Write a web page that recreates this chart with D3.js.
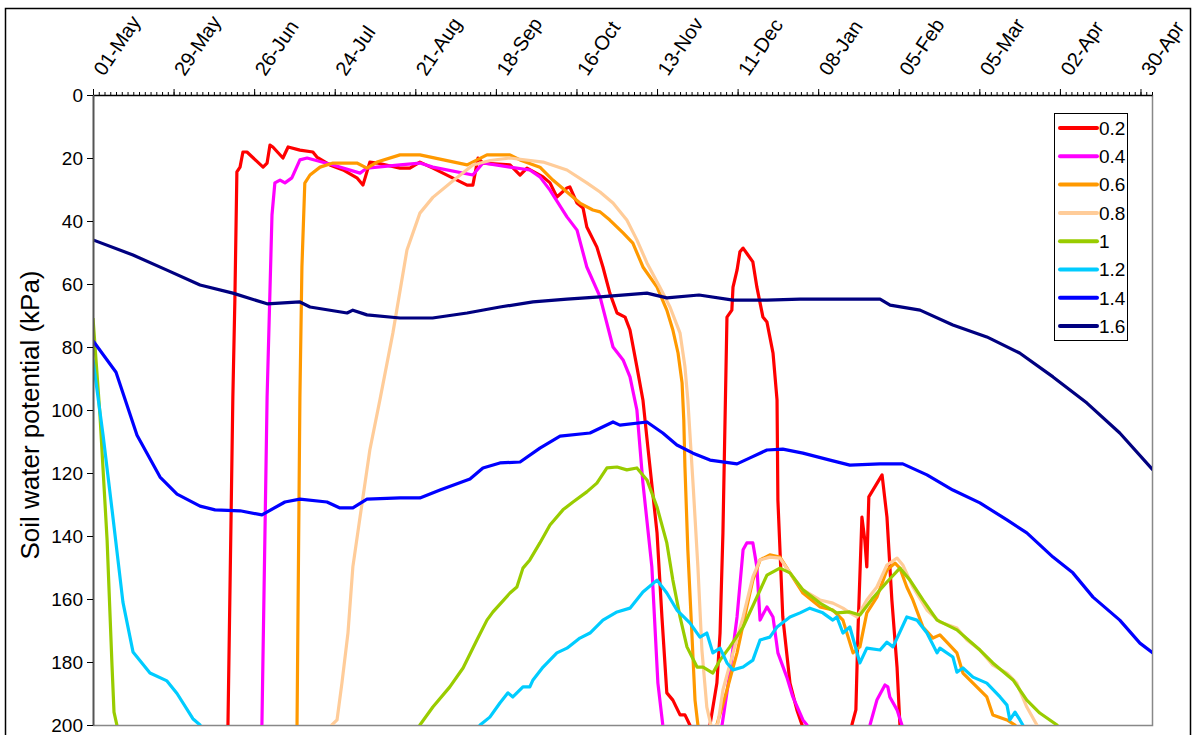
<!DOCTYPE html>
<html>
<head>
<meta charset="utf-8">
<script src="https://cdn.jsdelivr.net/npm/d3@7"></script>
<style>
  body { margin: 0; background: #fff; }
  text { font-family: "Liberation Sans", Arial, sans-serif; fill: #000; }
</style>
</head>
<body>
<div id="chart"></div>
<script>
// days counted from 01-May, value = soil water potential (kPa); >200 is off chart
const seriesNames = ["0.2", "0.4", "0.6", "0.8", "1", "1.2", "1.4", "1.6"];
const seriesColors = ["#ff0000", "#ff00ff", "#ff9900", "#ffcc99", "#99cc00", "#00ccff", "#0000ff", "#000080"];
const tickDays = [0, 28, 56, 84, 112, 140, 168, 196, 224, 252, 280, 308, 336, 364];
const yTicks = [0, 20, 40, 60, 80, 100, 120, 140, 160, 180, 200];

const s02 = [[44,212],[46.9,200],[48.6,95.9],[49.3,65.1],[50,24.4],[51.1,22.9],[52.1,18.1],[53.5,18.1],[59.1,22.9],[60.5,21.6],[61.5,15.9],[62.5,16.5],[66,20],[67.8,16.5],[71.9,17.5],[76.4,18.1],[77.8,19.7],[82.3,22.2],[86.9,23.8],[91.7,26.3],[93.8,28.6],[96.2,21.3],[98.7,21.6],[106.7,23.2],[110.1,23.2],[113.6,21.3],[118.1,23.2],[130,28.6],[132,28.6],[133.8,20],[135.5,21.6],[144.9,22.2],[148.4,25.4],[150.8,23.2],[156.4,26],[158.8,27.9],[161.2,32.4],[164.7,29.5],[165.7,29.2],[168.2,34.3],[170.3,35.9],[171.6,41.9],[175.1,48.3],[177.2,54.6],[179.6,62.9],[182.1,69.2],[184.9,70.5],[186.6,74.6],[189,86.3],[191.1,96.8],[192.8,111.7],[196,139],[197.7,165.7],[199.4,189.8],[201.5,192.1],[204,196.8],[205.7,196.8],[207.4,200],[211,208],[214.4,200],[216.8,186.7],[217.9,170.8],[218.9,139],[220.3,70.5],[222,68.3],[222.4,61],[223.8,55.6],[224.8,49.8],[225.9,48.6],[227.6,50.8],[229.3,53],[230.7,61],[232.8,70.5],[234.2,72.1],[236.3,81.9],[237.7,96.8],[238,128.6],[239.7,165.7],[242.2,186.7],[244.6,195.2],[246.4,200],[250,210],[260,210],[263.7,200],[265.1,195.2],[265.8,170.8],[267.2,134],[268.2,141.3],[268.9,149.8],[269.6,127.6],[274.2,120.6],[275.9,134],[277.6,160.3],[279.4,181.6],[280.4,200],[283,212]];

const s04 = [[56,212],[58.7,200],[60.5,95.9],[62.2,38.1],[63.2,27.9],[65,27],[66.7,27.9],[69.1,26.3],[71.9,20.6],[74.4,20],[83.4,22.2],[92.8,24.8],[95.2,23.2],[106.7,22.2],[113.6,21.6],[118.1,22.9],[132,25.4],[135.5,21.6],[144.9,22.9],[151.8,23.8],[155.3,26],[158.8,30.2],[164.7,38.7],[168.2,42.9],[171.6,54.6],[176.2,64.1],[180.7,80],[184.2,84.1],[186.6,89.5],[189,100],[191.1,123.2],[194.2,149.8],[196.3,186.7],[198,200],[201,212],[215,212],[218.6,200],[221.3,183.5],[223.8,165.7],[225.9,144.4],[227.2,142.2],[229.3,142.2],[230.7,149.8],[231.8,166.7],[234.2,162.5],[236.3,165.7],[238,177.1],[241.1,184.8],[243.2,191.1],[246.7,198.4],[248.1,200],[251,210],[266,210],[270,200],[272.4,192.1],[275.2,187.3],[276.2,187.9],[276.9,191.1],[279.4,195.2],[281.1,200],[284,210]];

const s06 = [[68,212],[70.9,200],[71.9,95.9],[72.6,54.6],[73.6,28],[75.4,25.4],[78.9,22.9],[83.4,21.6],[91.7,21.6],[95.2,23.2],[98.7,21.3],[106.7,19],[113.6,19],[130,22.2],[136.9,19],[144.9,19],[148.4,20.6],[155.3,22.9],[159.8,27],[164.7,30.8],[169.2,34.3],[173.7,36.5],[176.2,37.1],[179.6,39.7],[184.2,43.8],[187.6,47],[191.1,54.6],[196,61],[199.4,68.3],[201.5,74.6],[203.3,81.9],[204.7,91.4],[205.3,103.2],[205.7,118.1],[206.7,144.4],[208.1,170.8],[209.2,192.1],[210.2,200],[213.3,205],[216.8,200],[220.3,188.9],[223.8,177.1],[227.2,162.5],[229.3,154],[231.8,147.6],[235.2,146],[238.7,146.7],[242.2,151.7],[246.7,158.1],[252.6,162.5],[257.1,163.5],[260.6,166.7],[264.1,177.1],[266.5,175.2],[268.9,164.4],[272.4,159.4],[275.9,150.8],[278.7,148.6],[280.4,150.2],[282.8,156.2],[284.9,160.3],[288.4,168.9],[291.9,172.4],[294.3,171.4],[296.7,173.7],[300.2,177.1],[302.3,183.5],[305.8,186.7],[310.6,191.1],[312.7,196.8],[317.6,198.4],[320.4,200],[324,210]];

const s08 = [[80,212],[83,200],[84.8,198.4],[86.5,186.7],[88.6,170.8],[90.3,149.8],[92.8,134],[96.2,112.7],[99.7,96.8],[104.2,75.6],[109.1,49.2],[113.6,37.5],[118.1,32.5],[125,27.3],[132,22.2],[138,20.8],[144.9,20],[156.4,21.3],[164.7,23.8],[171.6,27.9],[176.2,30.8],[180.7,34.3],[185.5,39.7],[189,46],[192.5,53.3],[197,61],[200.5,67.3],[204,75.6],[205.7,86.3],[206.7,96.8],[208.5,123.2],[210.2,149.8],[211.6,176.2],[213.3,194.3],[215.1,201.6],[217.2,199.4],[218.9,188.9],[222.4,177.1],[225.9,165.7],[229.3,153],[231.8,147.6],[235.2,146.7],[238.7,147],[242.2,151.7],[246.7,157.1],[252.6,160.3],[257.1,161.3],[260.6,162.9],[263,164.4],[265.5,165.7],[268.9,160.3],[272.4,156.2],[275.9,149.2],[279.4,147],[281.4,149.2],[284.9,156.2],[289.8,163.5],[294.3,167.3],[300.2,169.2],[303.7,173],[308.2,176.2],[312.7,181],[317.6,183.5],[321,186.7],[324.5,194.3],[328,200],[332,210]];

const s10 = [[0,70.8],[2.4,101.3],[4.9,141.3],[6.6,181],[7.3,195.9],[8.3,200],[10,212],[110,212],[113.6,200],[118.1,194.3],[124,187.9],[128.6,181.9],[133.4,173],[136.9,166.7],[139,164.1],[144.9,158.1],[147.3,156.2],[149.4,150.2],[151.8,147.6],[155.3,142.2],[158.8,136.5],[163.3,131.7],[166.8,129.2],[171.6,126],[175.1,123.2],[178.6,118.4],[182.1,118.1],[185.5,119],[189,118.4],[192.5,122.2],[196,130.8],[199.4,142.2],[201.5,154],[204,165.7],[206.4,175.2],[209.9,181.6],[212,181.6],[215.4,183.5],[217.9,179.4],[221.3,175.2],[225.9,168.9],[230.7,159.4],[234.2,152.4],[238.7,150.2],[242.2,151.7],[246.7,157.1],[252.6,161.3],[258.5,164.4],[263,164.1],[266.5,165.1],[271,159.7],[275.9,154.6],[280.4,150.2],[283.9,154],[288.4,160.3],[293.3,166.7],[300.2,169.8],[308.2,176.2],[312.7,180.3],[319.7,185.7],[324.5,192.1],[329,196.2],[335,200],[340,210]];

const s12 = [[0,84],[3.5,108],[7,134.6],[10.4,161],[13.9,176.8],[19.8,183.5],[25.7,186],[29.2,190],[34.7,198],[37.2,200],[42,212],[130,212],[134.5,200],[137.9,197.5],[141.4,193],[144.2,189.8],[145.9,191.1],[149.4,187.9],[151.8,187.9],[152.9,185.7],[156.4,181.6],[161.2,177.1],[164.7,175.6],[169.2,172.4],[172.7,170.8],[177.2,166.7],[182.1,164.1],[186.6,162.9],[191.1,157.8],[196,154],[199.4,158.1],[202.9,163.5],[207.4,167.6],[210.9,172.1],[213.3,170.8],[215.4,177.1],[217.9,175.6],[220.3,180.3],[222.4,182.5],[225.9,181.6],[229.3,179.4],[231.8,173],[235.2,172.1],[237.7,168.9],[242.2,165.7],[245.7,164.4],[249.1,162.9],[253.6,164.4],[257.1,166.7],[258.5,165.7],[260.6,170.8],[263,168.9],[266.5,180.3],[268.9,175.6],[273.5,176.2],[275.9,173.7],[278,175.2],[282.8,165.7],[286.3,166.7],[289.8,170.8],[293.3,177.1],[294.3,175.6],[298.8,178.4],[300.2,183.2],[302.3,181.9],[305.8,184.8],[310.6,186.7],[315.2,191.1],[317.6,193.7],[318.6,198.4],[320.4,195.9],[322.1,198.4],[323.1,200],[326,210]];

const s14 = [[0,78],[8,88],[15.3,108],[23.3,121.3],[29.2,126.7],[37.2,130.5],[42.4,131.7],[51.1,132],[58.7,133.3],[66.7,129.2],[71.9,128.3],[81.3,129.2],[85.8,131.1],[90.3,131.1],[95.2,128.3],[106.7,127.9],[113.6,127.9],[120.6,125.4],[131,121.9],[135.5,118.4],[141.4,116.8],[148.4,116.5],[155.3,112.1],[162.3,108.3],[172.7,107.3],[180.7,103.8],[183.1,104.8],[192.5,103.8],[198,107.3],[202.9,111.1],[208.5,113.7],[214.4,115.9],[223.8,117.1],[228.3,115.2],[234.2,112.7],[239.7,112.4],[246.7,113.7],[256.1,115.9],[263,117.5],[273.5,117.1],[281.4,117.1],[289.8,120.6],[298.8,125.4],[308.2,129.5],[317.6,134.9],[324.5,139],[333.6,146.7],[340.5,151.7],[347.5,159.4],[356.8,166.7],[363.8,174],[368.3,177.1]];

const s16 = [[0,46],[13.9,50.8],[25.7,55.6],[37.2,60.3],[48.6,62.9],[60.5,66.3],[71.9,65.7],[75.4,67.3],[88.3,69.2],[90.3,68.3],[95.2,69.8],[106.7,70.8],[118,70.8],[130,69.2],[141.4,67.3],[152.9,65.7],[164.7,64.8],[176.2,64.1],[192.5,62.9],[199.4,64.4],[210.6,63.5],[222.4,65.1],[234.2,65.1],[245.7,64.8],[263,64.8],[273.5,64.8],[277,66.7],[287.4,68.3],[298.8,73],[310.6,76.8],[322,81.9],[333.6,89.5],[345.4,97.8],[356.8,107.3],[368.3,119]];

const allSeries = [s02, s04, s06, s08, s10, s12, s14, s16];

const W = 1197, H = 735;
const plot = { left: 93, top: 95, right: 1152, bottom: 725 };

const t0 = Date.UTC(2005, 4, 1);
const toDate = (d) => new Date(t0 + d * 864e5);

const x = d3.scaleUtc().domain([toDate(0), toDate(368)]).range([plot.left, plot.right]);
const y = d3.scaleLinear().domain([0, 200]).range([plot.top, plot.bottom]);

const svg = d3.select("#chart").append("svg").attr("width", W).attr("height", H);

// outer chart border
svg.append("rect")
  .attr("x", 5.5).attr("y", 8.5)
  .attr("width", 1185).attr("height", 740)
  .attr("fill", "none").attr("stroke", "#000").attr("stroke-width", 1.5);

// plot area frame (right / bottom)
svg.append("path")
  .attr("d", `M${plot.left},${plot.bottom + 0.5}H${plot.right + 0.5}V${plot.top}`)
  .attr("fill", "none").attr("stroke", "#888").attr("stroke-width", 1.5);

svg.append("clipPath").attr("id", "clip")
  .append("rect")
  .attr("x", plot.left).attr("y", plot.top)
  .attr("width", plot.right - plot.left).attr("height", plot.bottom - plot.top);

// series
const line = d3.line()
  .x((d) => x(toDate(d[0])))
  .y((d) => y(d[1]));

const g = svg.append("g").attr("clip-path", "url(#clip)");
g.selectAll("path")
  .data(allSeries)
  .join("path")
  .attr("d", line)
  .attr("fill", "none")
  .attr("stroke", (d, i) => seriesColors[i])
  .attr("stroke-width", 3.2)
  .attr("stroke-linejoin", "round");

// top axis: minor (2 days) + major (28 days)
const minor = svg.append("g")
  .attr("transform", `translate(0,${plot.top})`)
  .call(d3.axisTop(x).tickValues(d3.range(0, 369, 2).map(toDate)).tickSize(3).tickFormat(""));
minor.select(".domain").remove();

const xAxis = svg.append("g")
  .attr("transform", `translate(0,${plot.top})`)
  .call(d3.axisTop(x).tickValues(tickDays.map(toDate)).tickSize(6).tickSizeOuter(0).tickFormat(""));
xAxis.select(".domain").attr("stroke-width", 1.5);

const fmt = d3.utcFormat("%d-%b");
svg.append("g").selectAll("text")
  .data(tickDays)
  .join("text")
  .attr("transform", (d) => `translate(${x(toDate(d)) + 11},${plot.top - 18}) rotate(-56)`)
  .attr("font-size", 20)
  .text((d) => fmt(toDate(d)));

// left axis
const yAxis = svg.append("g")
  .attr("transform", `translate(${plot.left},0)`)
  .call(d3.axisLeft(y).tickValues(yTicks).tickSize(6).tickSizeOuter(0).tickPadding(4));
yAxis.select(".domain").attr("stroke", "#555").attr("stroke-width", 2);
yAxis.selectAll("text").attr("font-size", 19).attr("font-family", "Liberation Sans, Arial, sans-serif");

svg.append("text")
  .attr("transform", `translate(39,415) rotate(-90)`)
  .attr("text-anchor", "middle")
  .attr("font-size", 26)
  .text("Soil water potential  (kPa)");

// legend
const legend = svg.append("g").attr("transform", "translate(1054,113)");
legend.append("rect")
  .attr("x", 0.5).attr("y", 0.5).attr("width", 73).attr("height", 227)
  .attr("fill", "#fff").attr("stroke", "#000");
const items = legend.selectAll("g.item")
  .data(seriesNames)
  .join("g")
  .attr("class", "item")
  .attr("transform", (d, i) => `translate(0,${15 + i * 28.3})`);
items.append("line")
  .attr("x1", 6).attr("x2", 43)
  .attr("stroke", (d, i) => seriesColors[i])
  .attr("stroke-width", 4).attr("stroke-linecap", "round");
items.append("text")
  .attr("x", 45).attr("dy", "0.36em")
  .attr("font-size", 19)
  .text((d) => d);
</script>
</body>
</html>
